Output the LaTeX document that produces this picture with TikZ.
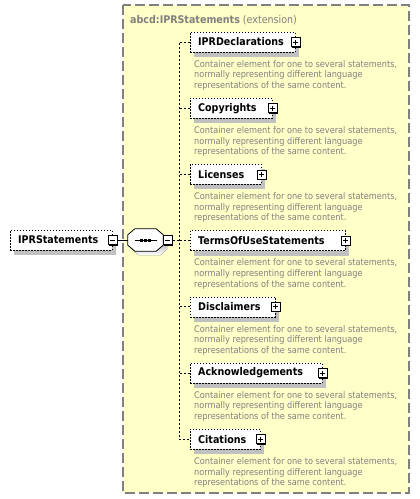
\documentclass[tikz,border=0pt]{standalone}
\usepackage{fontspec}
\setmainfont{DejaVu Sans Condensed}
\usetikzlibrary{positioning,shadows}

\definecolor{groupfill}{RGB}{255,255,200}
\definecolor{groupline}{RGB}{128,128,128}
\definecolor{shade}{RGB}{192,192,192}
\definecolor{doctext}{RGB}{128,128,128}

\newcommand\docnote{Container element for one to several statements,\\normally representing different language\\representations of the same content.}
\newcommand\seqoutline{([xshift=7pt]seq.north west) -- ([xshift=-7pt]seq.north east) -- ([yshift=-6pt]seq.north east) -- ([yshift=6pt]seq.south east) -- ([xshift=-7pt]seq.south east) -- ([xshift=7pt]seq.south west) -- ([yshift=6pt]seq.south west) -- ([yshift=-6pt]seq.north west) -- cycle}

\tikzset{
  elbox/.style={draw, dash pattern=on 1.5pt off 1.5pt, fill=white, anchor=west,
    minimum height=20pt, inner xsep=8pt, inner ysep=0pt, text width=#1pt, align=left,
    font=\bfseries\fontsize{10.6}{12}\selectfont,
    general shadow={fill=shade, shadow xshift=4pt, shadow yshift=-5pt}},
  expbox/.style={draw, fill=white, minimum size=9pt, inner sep=0pt, line width=.8pt,
    general shadow={fill=black, shadow xshift=1pt, shadow yshift=-1pt}},
  plusbox/.style={expbox, path picture={
    \draw[line width=.8pt] ([xshift=2pt]path picture bounding box.west) -- ([xshift=-2pt]path picture bounding box.east);
    \draw[line width=.8pt] ([yshift=-2pt]path picture bounding box.north) -- ([yshift=2pt]path picture bounding box.south);}},
  minusbox/.style={expbox, path picture={
    \draw[line width=.8pt] ([xshift=2pt]path picture bounding box.west) -- ([xshift=-2pt]path picture bounding box.east);}},
  seqbox/.style={minimum width=35pt, minimum height=22pt, inner sep=0pt},
  desc/.style={below right=8pt and 4pt of #1, inner sep=0pt, align=left, text=doctext,
    font=\fontsize{9.1}{10.6}\selectfont},
  conn/.style={dash pattern=on 2pt off 2pt, line width=.8pt},
}

\begin{document}
\begin{tikzpicture}[x=1pt,y=-1pt]
  \useasboundingbox (0,0) rectangle (420,499);
  % extension group
  \draw[fill=groupfill, draw=groupline, line width=1.3pt, dash pattern=on 10pt off 4pt] (123,5) rectangle (409,493);
  \node[anchor=base west, inner sep=0pt, text=doctext, font=\fontsize{10.6}{12}\selectfont] (title) at (130,23) {\textbf{abcd:IPRStatements} (extension)};

  % root element and sequence
  \node[elbox=86] (iprstat) at (10,240) {IPRStatements};
  \node[minusbox] (iprstatx) at (iprstat.east) {};
  \node[seqbox] (seq) at (145.5,240) {};
  \fill[shade, transform canvas={xshift=4pt, yshift=-4pt}] \seqoutline;
  \draw[fill=white, line width=.8pt] \seqoutline;
  \node[minusbox] (seqx) at ([xshift=4.5pt]seq.east) {};
  \draw[line width=.8pt] ([xshift=-11pt]seq.center) -- ([xshift=11pt]seq.center);
  \fill ([xshift=-4pt]seq.center) +(-1.5,-1.5) rectangle +(1.5,1.5);
  \fill (seq.center) +(-1.5,-1.5) rectangle +(1.5,1.5);
  \fill ([xshift=4pt]seq.center) +(-1.5,-1.5) rectangle +(1.5,1.5);
  \draw[line width=.8pt] (iprstatx.east) -- (seq.west);

  % children
  \node[elbox=89] (iprdecl) at (190,42) {IPRDeclarations};
  \node[plusbox] (iprdeclx) at (iprdecl.east) {};
  \node[desc=iprdecl.south west] (iprdecld) {\docnote};

  \node[elbox=66] (copyrights) at (190,108.2) {Copyrights};
  \node[plusbox] (copyrightsx) at (copyrights.east) {};
  \node[desc=copyrights.south west] (copyrightsd) {\docnote};

  \node[elbox=55] (licenses) at (190,174.4) {Licenses};
  \node[plusbox] (licensesx) at (licenses.east) {};
  \node[desc=licenses.south west] (licensesd) {\docnote};

  \node[elbox=139] (termsofuse) at (190,240.6) {TermsOfUseStatements};
  \node[plusbox] (termsofusex) at (termsofuse.east) {};
  \node[desc=termsofuse.south west] (termsofused) {\docnote};

  \node[elbox=69] (disclaimers) at (190,306.8) {Disclaimers};
  \node[plusbox] (disclaimersx) at (disclaimers.east) {};
  \node[desc=disclaimers.south west] (disclaimersd) {\docnote};

  \node[elbox=116] (acknowledgements) at (190,373) {Acknowledgements};
  \node[plusbox] (acknowledgementsx) at (acknowledgements.east) {};
  \node[desc=acknowledgements.south west] (acknowledgementsd) {\docnote};

  \node[elbox=54] (citations) at (190,439.2) {Citations};
  \node[plusbox] (citationsx) at (citations.east) {};
  \node[desc=citations.south west] (citationsd) {\docnote};

  % connectors
  \coordinate (trunk) at (179,240);
  \draw[conn] (seqx.east) -- (trunk);
  \draw[conn] (iprdecl.west) -- (iprdecl.west -| trunk) -- (citations.west -| trunk) -- (citations.west);
  \draw[conn] (copyrights.west) -- (copyrights.west -| trunk);
  \draw[conn] (licenses.west) -- (licenses.west -| trunk);
  \draw[conn] (termsofuse.west) -- (termsofuse.west -| trunk);
  \draw[conn] (disclaimers.west) -- (disclaimers.west -| trunk);
  \draw[conn] (acknowledgements.west) -- (acknowledgements.west -| trunk);
\end{tikzpicture}
\end{document}
